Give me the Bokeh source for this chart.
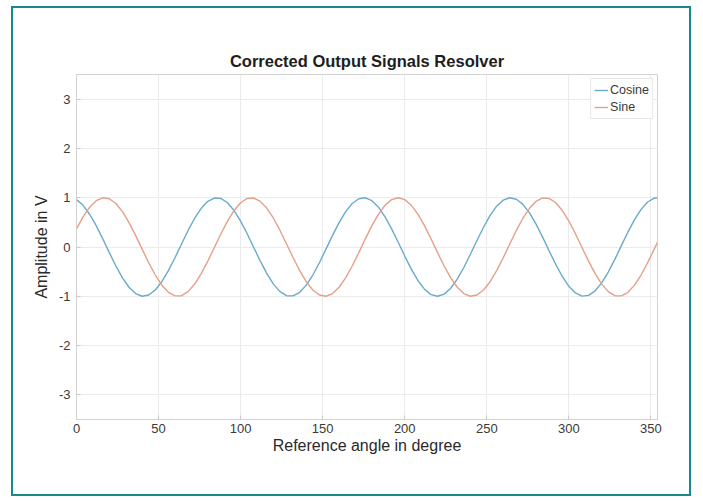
from bokeh.plotting import figure
from bokeh.models import FixedTicker, Range1d, Legend, LegendItem
from bokeh.embed import file_html
from bokeh.resources import INLINE

# Reference angle in degree
angle = [0, 4, 8, 12, 16, 20, 24, 28, 32, 36, 40, 44, 48, 52, 56, 60, 64, 68, 72, 76,
         80, 84, 88, 92, 96, 100, 104, 108, 112, 116, 120, 124, 128, 132, 136, 140, 144, 148, 152, 156,
         160, 164, 168, 172, 176, 180, 184, 188, 192, 196, 200, 204, 208, 212, 216, 220, 224, 228, 232, 236,
         240, 244, 248, 252, 256, 260, 264, 268, 272, 276, 280, 284, 288, 292, 296, 300, 304, 308, 312, 316,
         320, 324, 328, 332, 336, 340, 344, 348, 352, 354]

cosine = [0.961, 0.846, 0.665, 0.433, 0.166, -0.114, -0.385, -0.625, -0.817, -0.945,
          -0.999, -0.974, -0.873, -0.704, -0.479, -0.217, 0.062, 0.336, 0.584, 0.786,
          0.927, 0.994, 0.985, 0.898, 0.740, 0.525, 0.268, -0.009, -0.286, -0.540,
          -0.753, -0.905, -0.988, -0.992, -0.919, -0.774, -0.569, -0.319, -0.043, 0.235,
          0.495, 0.717, 0.882, 0.978, 0.998, 0.939, 0.807, 0.611, 0.368, 0.096,
          -0.184, -0.449, -0.679, -0.856, -0.966, -1.000, -0.956, -0.837, -0.652, -0.416,
          -0.148, 0.132, 0.401, 0.640, 0.828, 0.951, 0.999, 0.970, 0.864, 0.691,
          0.464, 0.200, -0.080, -0.353, -0.598, -0.797, -0.933, -0.996, -0.981, -0.889,
          -0.728, -0.509, -0.251, 0.027, 0.303, 0.555, 0.764, 0.913, 0.990, 1.000]

sine = [0.368, 0.611, 0.807, 0.939, 0.998, 0.978, 0.882, 0.717, 0.495, 0.235,
        -0.044, -0.319, -0.569, -0.775, -0.920, -0.992, -0.988, -0.905, -0.752, -0.540,
        -0.286, -0.009, 0.269, 0.525, 0.741, 0.898, 0.985, 0.994, 0.926, 0.786,
        0.584, 0.336, 0.061, -0.218, -0.480, -0.704, -0.873, -0.974, -0.999, -0.945,
        -0.817, -0.625, -0.385, -0.114, 0.166, 0.433, 0.666, 0.847, 0.961, 1.000,
        0.961, 0.846, 0.666, 0.433, 0.166, -0.114, -0.385, -0.626, -0.817, -0.945,
        -0.999, -0.974, -0.873, -0.704, -0.479, -0.217, 0.062, 0.336, 0.584, 0.786,
        0.927, 0.995, 0.985, 0.898, 0.740, 0.525, 0.268, -0.009, -0.286, -0.540,
        -0.753, -0.906, -0.988, -0.992, -0.919, -0.774, -0.569, -0.318, -0.043, 0.094]

x_ticks = [0, 50, 100, 150, 200, 250, 300, 350]
y_ticks = [-3, -2, -1, 0, 1, 2, 3]

FONT = "Liberation Sans"
TXT = "#3a3a3a"

p = figure(
    frame_width=581, frame_height=345,
    min_border_left=63, min_border_right=32, min_border_top=66, min_border_bottom=75,
    x_range=Range1d(0, 354), y_range=Range1d(-3.5, 3.5),
    output_backend="svg", toolbar_location=None,
    title="Corrected Output Signals Resolver",
)
p.styles = {"border": "2px solid #17898c", "margin-left": "11px", "margin-top": "6px"}
p.background_fill_color = "white"
p.border_fill_color = "white"
p.outline_line_color = "#d2d2d2"
p.outline_line_width = 1

p.title.align = "center"
p.title.text_font = FONT
p.title.text_font_size = "16.5px"
p.title.text_font_style = "bold"
p.title.text_color = "#1e1e1e"

for ax in (p.xaxis[0], p.yaxis[0]):
    ax.axis_line_color = "#d2d2d2"
    ax.major_tick_line_color = "#c8c8c8"
    ax.major_tick_in = 4
    ax.major_tick_out = 0
    ax.minor_tick_line_color = None
    ax.major_label_text_font = FONT
    ax.major_label_text_font_size = "13px"
    ax.major_label_text_color = TXT
    ax.axis_label_text_font = FONT
    ax.axis_label_text_font_size = "16px"
    ax.axis_label_text_font_style = "normal"
    ax.axis_label_text_color = "#2a2a2a"

p.xaxis[0].ticker = FixedTicker(ticks=x_ticks)
p.yaxis[0].ticker = FixedTicker(ticks=y_ticks)
p.yaxis[0].major_label_overrides = {t: str(t) for t in y_ticks}
p.xaxis[0].axis_label = "Reference angle in degree"
p.yaxis[0].axis_label = "Amplitude in V"
p.xaxis[0].major_label_standoff = 4
p.yaxis[0].major_label_standoff = 6
p.xaxis[0].axis_label_standoff = 1
p.yaxis[0].axis_label_standoff = 6

p.xgrid.grid_line_color = "#ebebeb"
p.ygrid.grid_line_color = "#ebebeb"

c1 = p.line(angle, cosine, line_color="#6aaacb", line_width=1.4)
c2 = p.line(angle, sine, line_color="#e4a089", line_width=1.4)

legend = Legend(items=[LegendItem(label="Cosine", renderers=[c1]),
                       LegendItem(label="Sine", renderers=[c2])],
                location="top_right")
legend.label_text_font = FONT
legend.label_text_font_size = "12.5px"
legend.label_text_color = TXT
legend.glyph_width = 14
legend.glyph_height = 16
legend.label_height = 16
legend.label_standoff = 2
legend.padding = 3
legend.spacing = 1
legend.margin = 4
legend.border_line_color = "#d2d2d2"
legend.background_fill_color = "white"
p.add_layout(legend)

open("out.html", "w").write(file_html(p, INLINE))
